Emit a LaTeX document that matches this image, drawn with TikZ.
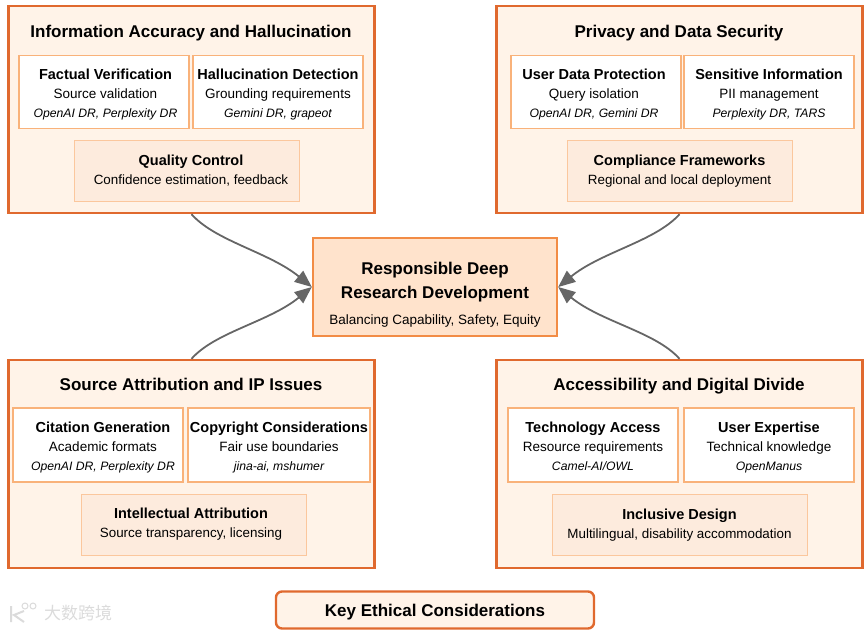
\documentclass[tikz,border=0pt]{standalone}
\usepackage{fontspec}
\setmainfont{Liberation Sans}
\newfontfamily\cjkfont{Noto Sans CJK SC}
\usetikzlibrary{arrows.meta}
\definecolor{outerline}{HTML}{E0692E}
\definecolor{outerfill}{HTML}{FFF3E8}
\definecolor{innerline}{HTML}{F9B27A}
\definecolor{midfill}{HTML}{FDEBDD}
\definecolor{midline}{HTML}{FBC79D}
\definecolor{corefill}{HTML}{FFE3CC}
\definecolor{coreline}{HTML}{F28C45}
\definecolor{linkgray}{HTML}{666666}
\newcommand{\leafbox}[3]{\rule{0pt}{16pt}{\fontsize{14.5}{19}\selectfont\bfseries #1}\\{\fontsize{13.5}{19}\selectfont #2}\\\rule[-4pt]{0pt}{4pt}{\fontsize{12.2}{19}\selectfont\itshape #3}}
\newcommand{\midbox}[2]{\rule{0pt}{12pt}{\fontsize{14.5}{19}\selectfont\bfseries #1}\\\rule[-4pt]{0pt}{4pt}{\fontsize{13.4}{19}\selectfont #2}}
\begin{document}
\begin{tikzpicture}[x=1pt,y=-1pt,
	every node/.style={align=center,inner sep=0,text=black,font=\fontsize{13}{19}\selectfont},
	group/.style={draw=outerline,fill=outerfill,line width=2.4pt,minimum width=366pt,minimum height=207pt},
	leaf/.style={draw=innerline,fill=white,line width=1.2pt,minimum width=170pt,minimum height=73pt},
	mid/.style={draw=midline,fill=midfill,line width=1pt,minimum height=61pt},
	head/.style={font=\fontsize{17}{20}\selectfont\bfseries,text height=13pt,text depth=4pt},
	link/.style={draw=linkgray,line width=1.8pt,-{Triangle[length=17pt,width=14pt]}}]
\useasboundingbox (0,0) rectangle (866,630);
% corner groups
\node[group] (accuracy) at (191.5,109.5) {};
\node[group] (privacy) at (679.5,109.5) {};
\node[group,minimum height=208pt] (source) at (191.5,464) {};
\node[group,minimum height=208pt] (access) at (679.5,464) {};
\node[head] (accuracyhead) at (191,32.5) {Information Accuracy and Hallucination};
\node[head] (privacyhead) at (679,32.5) {Privacy and Data Security};
\node[head] (sourcehead) at (191,385.5) {Source Attribution and IP Issues};
\node[head] (accesshead) at (679,385.5) {Accessibility and Digital Divide};
% inner boxes
\node[leaf] (factual) at (104,92) {};
\node (factualtext) at (105.5,92) {\leafbox{Factual Verification}{Source validation}{OpenAI DR, Perplexity DR}};
\node[leaf] (detect) at (278,92) {\leafbox{Hallucination Detection}{Grounding requirements}{Gemini DR, grapeot}};
\node[mid,minimum width=225pt] (quality) at (186.5,170.5) {};
\node (qualitytext) at (191,170.5) {\midbox{Quality Control}{Confidence estimation, feedback}};
\node[leaf] (userdata) at (596,92) {};
\node (userdatatext) at (594,92) {\leafbox{User Data Protection}{Query isolation}{OpenAI DR, Gemini DR}};
\node[leaf] (sensitive) at (769,92) {\leafbox{Sensitive Information}{PII management}{Perplexity DR, TARS}};
\node[mid,minimum width=225pt] (compliance) at (679.5,170.5) {\midbox{Compliance Frameworks}{Regional and local deployment}};
\node[leaf,minimum height=74pt] (citation) at (98,445) {};
\node (citationtext) at (103,445) {\leafbox{Citation Generation}{Academic formats}{OpenAI DR, Perplexity DR}};
\node[leaf,minimum width=182pt,minimum height=74pt] (copyright) at (279,445) {\leafbox{Copyright Considerations}{Fair use boundaries}{jina-ai, mshumer}};
\node[mid,minimum width=225pt] (attribution) at (193.5,524.5) {};
\node (attributiontext) at (191,524) {\midbox{Intellectual Attribution}{Source transparency, licensing}};
\node[leaf,minimum height=74pt] (techaccess) at (593,445) {\leafbox{Technology Access}{Resource requirements}{Camel-AI/OWL}};
\node[leaf,minimum height=74pt] (expertise) at (769,445) {\leafbox{User Expertise}{Technical knowledge}{OpenManus}};
\node[mid,minimum width=255pt] (inclusive) at (679.5,524.5) {\midbox{Inclusive Design}{Multilingual, disability accommodation}};
% centre and caption
\node[draw=coreline,fill=corefill,line width=2.4pt,minimum width=244pt,minimum height=98pt,font=\fontsize{17}{24}\selectfont] (core) at (435,287)
	{\rule{0pt}{28pt}{\bfseries Responsible Deep}\\{\bfseries Research Development}\\[2pt]{\fontsize{13.5}{16}\selectfont Balancing Capability, Safety, Equity}};
\node[draw=outerline,fill=outerfill,line width=2.4pt,rounded corners=6pt,minimum width=318pt,minimum height=37pt,head,text height=16pt] (caption) at (435,610) {Key Ethical Considerations};
% links
\draw[link] (accuracy.south) .. controls +(24,27) and +(-43,-35) .. (core.west);
\draw[link] (source.north) .. controls +(24,-27) and +(-43,35) .. (core.west);
\draw[link] (privacy.south) .. controls +(-24,27) and +(43,-35) .. (core.east);
\draw[link] (access.north) .. controls +(-24,-27) and +(43,35) .. (core.east);
% watermark
\node[text=black!14,font=\cjkfont\fontsize{17}{17}\selectfont] (mark) at (78,613) {大数跨境};
\node[draw=black!14,circle,line width=1pt,minimum size=6pt] (markb) at (25,606) {};
\node[draw=black!14,circle,line width=1pt,minimum size=6pt] (markc) at (33,606) {};
\draw[black!14,line width=2pt] (11,606) -- (11,622) (24,611) -- (14,615) -- (24,622);
\end{tikzpicture}
\end{document}
